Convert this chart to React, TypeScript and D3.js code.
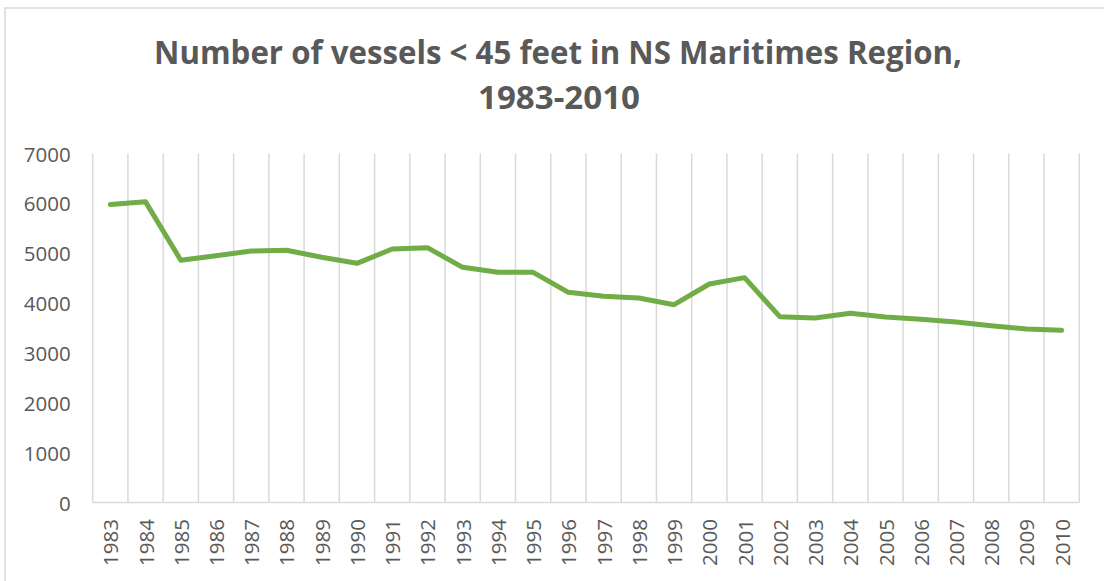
import React from "react";
import * as d3 from "d3";

const years: string[] = [
  "1983","1984","1985","1986","1987","1988","1989","1990","1991","1992",
  "1993","1994","1995","1996","1997","1998","1999","2000","2001","2002",
  "2003","2004","2005","2006","2007","2008","2009","2010",
];
const vessels: number[] = [
  5975, 6030, 4860, 4950, 5044, 5058, 4918, 4797, 5084, 5111,
  4717, 4617, 4617, 4216, 4135, 4102, 3967, 4382, 4510, 3727,
  3700, 3794, 3720, 3674, 3620, 3546, 3480, 3453,
];
const yTicks: number[] = [0, 1000, 2000, 3000, 4000, 5000, 6000, 7000];
const titleLines: string[] = ["Number of vessels < 45 feet in NS Maritimes Region,", "1983-2010"];

export default function App() {
  const W = 1104, H = 581;
  const left = 92.7, right = 1079.3, top = 153.5, bottom = 502.5;
  const x = d3.scaleBand<string>().domain(years).range([left, right]).padding(0);
  const y = d3.scaleLinear().domain([0, 7000]).range([bottom, top]);
  const line = d3
    .line<number>()
    .x((_, i) => (x(years[i]) as number) + x.bandwidth() / 2)
    .y((d) => y(d));
  const gridXs = years.map((yr) => x(yr) as number).concat([right]);
  const font = "'Open Sans', 'Liberation Sans', sans-serif";
  const grey = "#595959";
  return (
    <svg
      width={W}
      height={H}
      style={{ position: "absolute", left: 0, top: 0, background: "#fff" }}
    >
      <rect x={0} y={0} width={W} height={H} fill="#fff" />
      <rect x={5} y={8} width={W + 20} height={H + 20} fill="none" stroke="#d9d9d9" strokeWidth={1.5} />
      <text
        x={558}
        y={64}
        textAnchor="middle"
        fontFamily={font}
        fontWeight="bold"
        fontSize={33}
        fill={grey}
        textLength={808}
        lengthAdjust="spacingAndGlyphs"
      >
        {titleLines[0]}
      </text>
      <text
        x={559}
        y={109}
        textAnchor="middle"
        fontFamily={font}
        fontWeight="bold"
        fontSize={33}
        fill={grey}
        textLength={162}
        lengthAdjust="spacingAndGlyphs"
      >
        {titleLines[1]}
      </text>
      {gridXs.map((gx, i) => (
        <line key={"g" + i} x1={gx} x2={gx} y1={top} y2={bottom} stroke="#d9d9d9" strokeWidth={1.5} />
      ))}
      <line x1={left} x2={right} y1={bottom} y2={bottom} stroke="#d9d9d9" strokeWidth={1.5} />
      {yTicks.map((t) => (
        <text
          key={"y" + t}
          x={70.7}
          y={y(t)}
          textAnchor="end"
          dominantBaseline="central"
          fontFamily={font}
          fontSize={20.5}
          fill={grey}
        >
          {t}
        </text>
      ))}
      {years.map((yr) => {
        const cx = (x(yr) as number) + x.bandwidth() / 2;
        return (
          <text
            key={"x" + yr}
            transform={`translate(${cx},519) rotate(-90)`}
            textAnchor="end"
            dominantBaseline="central"
            fontFamily={font}
            fontSize={20.5}
            fill={grey}
          >
            {yr}
          </text>
        );
      })}
      <path
        d={line(vessels) || ""}
        fill="none"
        stroke="#70AD47"
        strokeWidth={5}
        strokeLinejoin="round"
        strokeLinecap="round"
      />
    </svg>
  );
}
